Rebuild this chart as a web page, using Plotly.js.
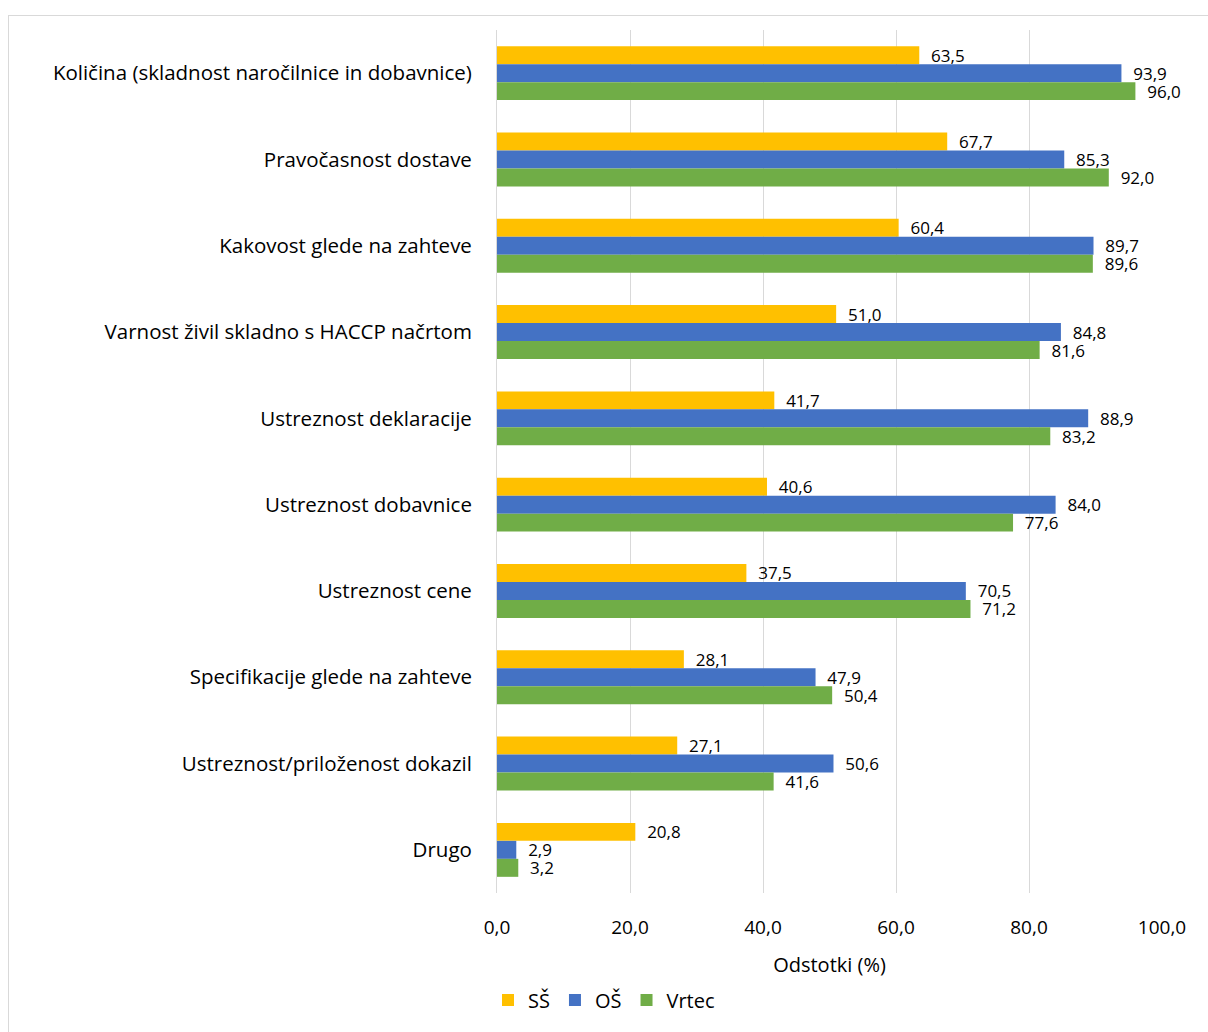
<!DOCTYPE html>
<html>
<head>
<meta charset="utf-8">
<script src="https://cdn.plot.ly/plotly-3.0.1.min.js"></script>
<style>
html,body{margin:0;padding:0;width:1208px;height:1032px;overflow:hidden;background:#fff;}
#frame{position:absolute;left:8px;top:15px;width:1230px;height:1050px;border:1px solid #d9d9d9;box-sizing:border-box;}
#chart{position:absolute;left:0;top:0;width:1208px;height:1032px;}
</style>
</head>
<body>
<div id="frame"></div>
<div id="chart"></div>
<script>
const categories = [
  "Količina (skladnost naročilnice in dobavnice)",
  "Pravočasnost dostave",
  "Kakovost glede na zahteve",
  "Varnost živil skladno s HACCP načrtom",
  "Ustreznost deklaracije",
  "Ustreznost dobavnice",
  "Ustreznost cene",
  "Specifikacije glede na zahteve",
  "Ustreznost/priloženost dokazil",
  "Drugo"
];
const valuesSS = [63.5, 67.7, 60.4, 51.0, 41.7, 40.6, 37.5, 28.1, 27.1, 20.8];
const valuesOS = [93.9, 85.3, 89.7, 84.8, 88.9, 84.0, 70.5, 47.9, 50.6, 2.9];
const valuesVrtec = [96.0, 92.0, 89.6, 81.6, 83.2, 77.6, 71.2, 50.4, 41.6, 3.2];
const seriesNames = ["SŠ", "OŠ", "Vrtec"];
const tickVals = [0, 20, 40, 60, 80, 100];
const tickText = ["0,0", "20,0", "40,0", "60,0", "80,0", "100,0"];

const colors = ["#FFC000", "#4472C4", "#70AD47"];
const fmt = v => "  " + v.toFixed(1).replace(".", ",");
const FONT = "Open Sans, sans-serif";

const traces = [valuesSS, valuesOS, valuesVrtec].map((vals, i) => ({
  type: "bar",
  orientation: "h",
  name: seriesNames[i],
  y: categories,
  x: vals,
  marker: {color: colors[i]},
  text: vals.map(fmt),
  textposition: "outside",
  constraintext: "none",
  cliponaxis: false,
  textfont: {family: FONT, size: 17, color: "#000"},
  hoverinfo: "x+y"
}));

const layout = {
  width: 1208,
  height: 1032,
  margin: {l: 497, r: 46, t: 30, b: 139},
  paper_bgcolor: "rgba(0,0,0,0)",
  plot_bgcolor: "rgba(0,0,0,0)",
  barmode: "group",
  bargap: 0.375,
  bargroupgap: 0,
  font: {family: FONT, color: "#000"},
  xaxis: {
    range: [0, 100],
    tickvals: tickVals,
    ticktext: tickText,
    showgrid: true,
    gridcolor: "#d9d9d9",
    gridwidth: 1,
    zeroline: false,
    showline: false,
    ticks: "outside",
    ticklen: 17,
    tickcolor: "rgba(0,0,0,0)",
    tickfont: {family: FONT, size: 19, color: "#000"},
    title: {text: "Odstotki (%)", font: {family: FONT, size: 20, color: "#000"}, standoff: 19}
  },
  yaxis: {
    autorange: "reversed",
    showgrid: false,
    zeroline: false,
    showline: true,
    linecolor: "#d9d9d9",
    linewidth: 1,
    ticks: "outside",
    ticklen: 20,
    tickcolor: "rgba(0,0,0,0)",
    tickfont: {family: FONT, size: 20.5, color: "#000"}
  },
  legend: {
    orientation: "h",
    x: 0.5,
    xref: "container",
    xanchor: "center",
    y: 0.012,
    yref: "container",
    yanchor: "bottom",
    font: {family: FONT, size: 20, color: "#000"},
    itemwidth: 30,
    tracegroupgap: 0
  },
  showlegend: true
};

Plotly.newPlot("chart", traces, layout, {displayModeBar: false, staticPlot: true});
</script>
</body>
</html>
